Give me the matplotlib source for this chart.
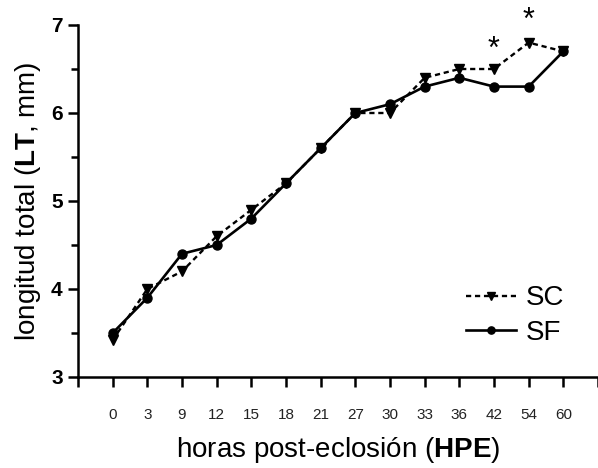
import matplotlib
matplotlib.use('Agg')
import matplotlib.pyplot as plt
import numpy as np

plt.rcParams['font.family'] = ['Liberation Sans', 'DejaVu Sans']
plt.rcParams['mathtext.fontset'] = 'custom'
plt.rcParams['mathtext.rm'] = 'Liberation Sans'
plt.rcParams['mathtext.bf'] = 'Liberation Sans:bold'

# datos
horas = ['0', '3', '9', '12', '15', '18', '21', '27', '30', '33', '36', '42', '54', '60']
sc = [3.42, 4.0, 4.2, 4.6, 4.9, 5.2, 5.6, 6.0, 6.0, 6.4, 6.5, 6.5, 6.8, 6.7]
sf = [3.5, 3.9, 4.4, 4.5, 4.8, 5.2, 5.6, 6.0, 6.1, 6.3, 6.4, 6.3, 6.3, 6.7]
# asteriscos de significancia
sig_horas = ['42', '54']
sig_y = [6.72, 7.05]

fig = plt.figure(figsize=(5.98, 4.68), dpi=100)
ax = fig.add_axes([78/598, 91/468, 520/598, 352/468])

x = np.arange(len(horas))
ax.plot(x, sc, color='black', ls=(0, (2.2, 1.6)), lw=1.7, marker='v', ms=6.5,
        label='SC', clip_on=False, zorder=3)
ax.plot(x, sf, color='black', ls='-', lw=1.9, marker='o', ms=6.5,
        label='SF', clip_on=False, zorder=4)

for h, yv in zip(sig_horas, sig_y):
    ax.text(horas.index(h), yv, '*', ha='center', va='center', fontsize=22,
            clip_on=False)

ax.set_xlim(-1, len(horas))
ax.set_ylim(3, 7)
ax.set_xticks(np.arange(-1, len(horas) + 1))
ax.set_xticklabels([''] + horas + [''], fontsize=11, color='#222222')
ax.set_yticks([3, 4, 5, 6, 7])
ax.set_yticklabels(['3', '4', '5', '6', '7'], fontsize=15, fontweight='bold')
ax.set_yticks([3.5, 4.5, 5.5, 6.5], minor=True)

for s in ['top', 'right']:
    ax.spines[s].set_visible(False)
for s in ['left', 'bottom']:
    ax.spines[s].set_linewidth(1.8)

ax.tick_params(axis='both', which='major', direction='out', length=7, width=1.8)
ax.tick_params(axis='y', which='minor', direction='out', length=5, width=1.8)
ax.tick_params(axis='x', pad=15)
ax.tick_params(axis='y', pad=4)

ax.set_xlabel('horas post-eclosión ($\\mathbf{HPE}$)', fontsize=20, labelpad=10)
ax.set_ylabel('longitud total ($\\mathbf{LT}$, mm)', fontsize=20, labelpad=6)

ax.legend(loc='center', bbox_to_anchor=(0.84, 0.175), frameon=False,
          fontsize=20, handlelength=1.8, handletextpad=0.35, labelspacing=0.3,
          markerscale=0.8)

fig.savefig('out.png', dpi=100)
